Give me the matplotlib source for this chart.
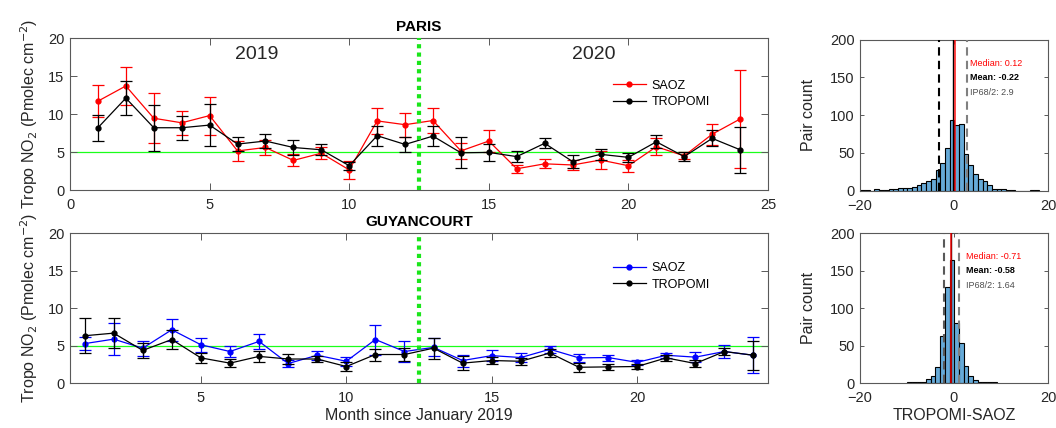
import numpy as np
import matplotlib
matplotlib.use("Agg")
import matplotlib.pyplot as plt

plt.rcParams['font.family'] = ['Liberation Sans', 'DejaVu Sans']
plt.rcParams['font.size'] = 10

# month index since January 2019
months = list(range(1, 25))

# PARIS
paris_saoz = [11.7, 13.7, 9.45, 8.85, 9.8, 5.15, 5.6, 3.9, 4.85, 2.65, 9.1, 8.6,
              9.15, 5.15, 6.45, 2.8, 3.45, 3.3, 3.95, 3.2, 5.7, 4.5, 7.35, 9.35]
paris_saoz_err = [2.1, 2.45, 3.3, 1.6, 2.5, 1.3, 1.05, 0.8, 0.8, 1.2, 1.75, 1.6,
                  1.6, 1.1, 1.4, 0.55, 0.6, 0.65, 1.2, 0.8, 1.1, 0.45, 1.4, 6.5]
paris_tropomi = [8.2, 12.1, 8.2, 8.2, 8.55, 6.05, 6.45, 5.6, 5.3, 3.2, 7.15, 6.0,
                 7.1, 4.9, 4.95, 4.4, 6.15, 3.75, 4.7, 4.3, 6.35, 4.4, 6.8, 5.3]
paris_tropomi_err = [1.7, 2.2, 3.0, 1.6, 2.8, 0.95, 0.95, 1.0, 0.75, 0.5, 1.3, 1.0,
                     1.35, 2.05, 1.1, 0.75, 0.65, 0.8, 0.7, 0.55, 0.85, 0.6, 1.05, 3.0]

# GUYANCOURT
guy_saoz = [5.25, 5.85, 4.65, 7.1, 5.1, 4.2, 5.55, 2.6, 3.7, 2.9, 5.8, 4.2,
            4.75, 3.0, 3.65, 3.4, 4.5, 3.35, 3.4, 2.75, 3.7, 3.45, 4.2, 3.7]
guy_saoz_err = [0.9, 2.1, 1.0, 1.5, 0.95, 0.7, 1.0, 0.45, 0.6, 0.6, 2.0, 1.35,
                1.2, 0.8, 0.7, 0.55, 0.5, 0.5, 0.4, 0.3, 0.35, 0.65, 0.9, 2.4]
guy_tropomi = [6.3, 6.65, 4.35, 5.8, 3.35, 2.65, 3.55, 3.2, 3.2, 2.2, 3.8, 3.8,
               4.65, 2.65, 3.0, 2.9, 4.0, 2.1, 2.15, 2.2, 3.35, 2.6, 4.2, 3.7]
guy_tropomi_err = [2.35, 2.0, 1.0, 1.3, 0.7, 0.5, 0.7, 0.7, 0.45, 0.65, 0.8, 0.9,
                   1.4, 0.9, 0.5, 0.5, 0.55, 0.6, 0.35, 0.35, 0.4, 0.45, 0.5, 1.95]

# histograms of TROPOMI-SAOZ differences (first bin left edge, unit-width bins)
paris_first_edge = -19.92
paris_counts = [1, 1, 0, 2, 1, 1, 2, 2, 3, 3, 4, 5, 7, 10, 13, 16, 28, 37, 57, 94,
                87, 88, 48, 34, 22, 15, 13, 7, 2, 2, 2, 1, 1, 0, 0, 0, 1, 1]
paris_stats = {"median": 0.12, "mean": -0.22, "ip68": 2.9}

guy_first_edge = -9.95
guy_counts = [1, 1, 1, 2, 5, 10, 21, 63, 128, 164, 80, 53, 23, 10, 4, 2, 1, 1, 1]
guy_stats = {"median": -0.71, "mean": -0.58, "ip68": 1.64}

AX_GRAY = '0.15'


def style_axes(ax, ticklen=5):
    for s in ax.spines.values():
        s.set_color('0.35')
        s.set_linewidth(0.8)
    ax.tick_params(direction='in', top=True, right=True, length=ticklen,
                   width=0.7, colors='0.35', labelcolor=AX_GRAY)
    ax.tick_params(axis='x', pad=6)
    ax.tick_params(axis='y', pad=4)


def graph_timeseries(ax, saoz, saoz_err, trop, trop_err, saoz_color, title, xlim, xticks, legend_y):
    ax.axhline(5, color=(0.1, 1.0, 0.1), lw=0.9, zorder=1)
    ax.errorbar(months, saoz, yerr=saoz_err, color=saoz_color, marker='o', ms=3.5,
                lw=0.9, elinewidth=0.9, capsize=4.5, capthick=0.9, label='SAOZ', zorder=3)
    ax.errorbar(months, trop, yerr=trop_err, color='k', marker='o', ms=3.5,
                lw=0.9, elinewidth=0.9, capsize=4.5, capthick=0.9, label='TROPOMI', zorder=4)
    ax.axvline(12.5, color=(0.1, 0.9, 0.1), lw=3, ls=(0, (1, 1)), zorder=5)

    ax.set_xlim(*xlim)
    ax.set_ylim(0, 20)
    ax.set_xticks(xticks)
    ax.set_yticks([0, 5, 10, 15, 20])
    ax.set_ylabel('Tropo NO$_2$ (Pmolec cm$^{-2}$)', fontsize=11.5, color=AX_GRAY,
                  labelpad=6)
    ax.set_title(title, fontweight='bold', fontsize=11, pad=5)
    style_axes(ax)
    ax.tick_params(labelsize=10.5)

    h, l = ax.get_legend_handles_labels()
    h = [hh[0] for hh in h]
    ax.legend(h, l, loc='upper left', bbox_to_anchor=(0.762, legend_y), frameon=False,
              fontsize=9, handlelength=2.6, labelspacing=0.35, handletextpad=0.5)


def graph_hist(ax, first_edge, counts, stats, xlabel, text_x, dash_colors):
    edges = first_edge + np.arange(len(counts))
    ax.bar(edges, counts, width=1.0, align='edge', color=(0.4, 0.668, 0.846),
           edgecolor='k', linewidth=0.8, zorder=2)
    m, ip = stats["mean"], stats["ip68"]
    ax.axvline(m - ip, color=dash_colors[0], ls=(0, (4, 2.5)), lw=1.5, zorder=3)
    ax.axvline(m + ip, color=dash_colors[1], ls=(0, (4, 2.5)), lw=1.5, zorder=3)
    ax.axvline(m, color='k', lw=1.0, zorder=4)
    ax.axvline(stats["median"], color='r', lw=1.2, alpha=0.85, zorder=5)

    ax.text(text_x, 169, f"Median: {stats['median']}", color='r', fontsize=6.5, va='center')
    ax.text(text_x, 150, f"Mean: {stats['mean']}", color='k', fontsize=6.5,
            fontweight='bold', va='center')
    ax.text(text_x, 130, f"IP68/2: {stats['ip68']}", color='0.3', fontsize=6.5, va='center')

    ax.set_xlim(-20, 20)
    ax.set_ylim(0, 200)
    ax.set_xticks([-20, 0, 20])
    ax.set_yticks([0, 50, 100, 150, 200])
    ax.set_ylabel('Pair count', fontsize=11.5, color=AX_GRAY, labelpad=10)
    if xlabel:
        ax.set_xlabel(xlabel, fontsize=11.5, color=AX_GRAY, labelpad=2)
    style_axes(ax, ticklen=3)
    ax.tick_params(labelsize=10.5)


fig = plt.figure(figsize=(10.56, 4.28), dpi=100)
ax_paris = fig.add_axes([0.0663, 0.556, 0.661, 0.355])
ax_guy = fig.add_axes([0.0663, 0.1051, 0.661, 0.3505])
ax_hp = fig.add_axes([0.8144, 0.5544, 0.178, 0.3528])
ax_hg = fig.add_axes([0.8144, 0.1051, 0.178, 0.3505])

graph_timeseries(ax_paris, paris_saoz, paris_saoz_err, paris_tropomi, paris_tropomi_err,
                 'r', 'PARIS', (0, 25), [0, 5, 10, 15, 20, 25], 0.80)
ax_paris.text(6.7, 17.8, '2019', fontsize=14, ha='center', va='center', color=AX_GRAY)
ax_paris.text(18.75, 17.8, '2020', fontsize=14, ha='center', va='center', color=AX_GRAY)

graph_timeseries(ax_guy, guy_saoz, guy_saoz_err, guy_tropomi, guy_tropomi_err,
                 'b', 'GUYANCOURT', (0.5, 24.5), [5, 10, 15, 20], 0.88)
ax_guy.set_xlabel('Month since January 2019', fontsize=11.5, color=AX_GRAY, labelpad=2)

graph_hist(ax_hp, paris_first_edge, paris_counts, paris_stats, None, 3.4, ('k', '0.5'))
graph_hist(ax_hg, guy_first_edge, guy_counts, guy_stats, 'TROPOMI-SAOZ', 2.5, ('0.35', '0.5'))

fig.savefig('out.png', dpi=100)
